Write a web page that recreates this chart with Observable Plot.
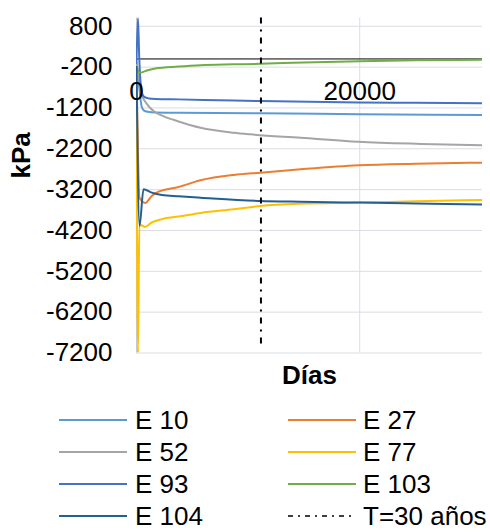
<!DOCTYPE html>
<html>
<head>
<meta charset="utf-8">
<script src="https://cdn.jsdelivr.net/npm/d3@7"></script>
<script src="https://cdn.jsdelivr.net/npm/@observablehq/plot@0.6"></script>
<style>
  html, body { margin: 0; padding: 0; background: white; }
  body { width: 490px; height: 532px; overflow: hidden; font-family: "Liberation Sans", Arial, sans-serif; }
  #chart { height: 395px; }
  #chart svg { display: block; }
  #legend { position: relative; width: 490px; height: 137px; }
  .item { position: absolute; height: 22px; display: flex; align-items: center; font-size: 26px; line-height: 22px; color: black; white-space: nowrap; }
  .item svg { display: block; }
</style>
</head>
<body>
<div id="chart"></div>
<div id="legend"></div>
<script>
// ---- data ----
const seriesNames = ["E 10", "E 27", "E 52", "E 77", "E 93", "E 103", "E 104"];
const seriesColors = ["#5B9BD5", "#ED7D31", "#A5A5A5", "#FFC000", "#4472C4", "#70AD47", "#255E91"];

const e10Days = [0, 250, 450, 650, 1000, 1700, 3770, 11100, 20000, 31000];
const e10Kpa  = [-100, -700, -1150, -1260, -1295, -1312, -1318, -1330, -1352, -1375];

const e27Days = [0, 270, 780, 1370, 1970, 3770, 5740, 8700, 11100, 14700, 19900, 25000, 31000];
const e27Kpa  = [-200, -3400, -3525, -3354, -3250, -3134, -2971, -2841, -2784, -2702, -2604, -2565, -2540];

const e52Days = [0, 250, 480, 960, 1500, 2400, 3770, 5740, 8700, 10200, 14700, 19900, 25500, 31000];
const e52Kpa  = [-100, -500, -868, -1113, -1270, -1400, -1530, -1684, -1806, -1846, -1929, -2027, -2080, -2115];

const e77Days = [0, 130, 260, 750, 1370, 2270, 3770, 5740, 8700, 11100, 14700, 20000, 25000, 31000];
const e77Kpa  = [-200, -7200, -4050, -4112, -4004, -3922, -3860, -3770, -3680, -3600, -3545, -3518, -3485, -3452];

const e93Days = [0, 130, 250, 480, 700, 1100, 1700, 3770, 8700, 11100, 19900, 25000, 31000];
const e93Kpa  = [-100, 1000, 0, -820, -930, -966, -980, -990, -1020, -1032, -1064, -1075, -1088];

const e103Days = [0, 150, 300, 780, 1680, 3770, 5740, 8700, 11100, 15000, 20000, 25000, 31000];
const e103Kpa  = [-180, -300, -340, -298, -232, -185, -152, -133, -120, -85, -54, -35, -22];

const e104Days = [0, 270, 630, 1370, 2270, 3770, 5740, 11100, 14700, 20000, 25000, 31000];
const e104Kpa  = [-200, -4088, -3190, -3272, -3330, -3362, -3396, -3477, -3497, -3518, -3540, -3567];

const tLineLabel = "T=30 años";
const tLineDays = [11150];
const tLineKpa = [1000, -7000];

const xTicks = [0, 20000];
const yTicks = [800, -200, -1200, -2200, -3200, -4200, -5200, -6200, -7200];
const xDomain = [0, 31000];
const yDomain = [-7200, 1000];

// ---- build rows ----
const allDays = [e10Days, e27Days, e52Days, e77Days, e93Days, e103Days, e104Days];
const allKpa = [e10Kpa, e27Kpa, e52Kpa, e77Kpa, e93Kpa, e103Kpa, e104Kpa];
const rowsBySeries = seriesNames.map((name, s) =>
  allDays[s].map((d, i) => ({series: name, day: d, kpa: allKpa[s][i]}))
);

const FONT = "'Liberation Sans', Arial, sans-serif";
const dashDot = "6,6,2,6";

const chart = Plot.plot({
  width: 490,
  height: 395,
  marginLeft: 136,
  marginRight: 8,
  marginTop: 17.6,
  marginBottom: 42.5,
  x: {domain: xDomain, axis: null},
  y: {domain: yDomain, axis: null},
  style: {fontFamily: FONT, fontSize: "26px", color: "black", background: "white", overflow: "visible"},
  marks: [
    Plot.gridY(yTicks, {stroke: "#D9DDE3", strokeOpacity: 1, strokeWidth: 1}),
    Plot.ruleX(xTicks.filter(d => d !== 0), {stroke: "#D9DDE3", strokeWidth: 1}),
    Plot.ruleX([xDomain[0]], {stroke: "#C3C8D2", strokeWidth: 1}),
    Plot.ruleY([0], {stroke: "black", strokeWidth: 1}),
    Plot.axisY(yTicks, {tickSize: 0, tickPadding: 24, fontSize: 26, label: null, fill: "black", tickFormat: d => String(d)}),
    ...rowsBySeries.map((rows, s) =>
      Plot.line(rows, {x: "day", y: "kpa", stroke: seriesColors[s], strokeWidth: 2, curve: "monotone-x", clip: true})
    ),
    Plot.ruleX(tLineDays, {y1: () => tLineKpa[0], y2: () => tLineKpa[1], stroke: "black", strokeWidth: 2, strokeDasharray: dashDot}),
    Plot.text(xTicks, {x: d => d, y: () => 0, dy: 32.6, text: d => String(d), fontSize: 26, fill: "black", lineAnchor: "middle"}),
    Plot.text(["Días"], {frameAnchor: "bottom", dy: 23, fontSize: 26, fontWeight: "bold", fill: "black", lineAnchor: "middle"}),
    Plot.text(["kPa"], {frameAnchor: "left", dx: -115, dy: -7, rotate: -90, fontSize: 26, fontWeight: "bold", fill: "black", lineAnchor: "middle"})
  ]
});
document.getElementById("chart").appendChild(chart);

// ---- legend ----
const legend = document.getElementById("legend");
const legendItems = seriesNames.map((name, i) => ({label: name, color: seriesColors[i], dash: null}));
legendItems.push({label: tLineLabel, color: "black", dash: "5,5,2,5"});
const rowCenters = [24.5, 56.8, 89, 121.2];
const colLeft = [59, 288];
legendItems.forEach((it, i) => {
  const col = i % 2, row = Math.floor(i / 2);
  const div = document.createElement("div");
  div.className = "item";
  div.style.left = colLeft[col] + "px";
  div.style.top = (rowCenters[row] - 11) + "px";
  const svg = d3.create("svg").attr("width", 68).attr("height", 22).style("margin-right", col === 0 ? "8px" : "7px");
  svg.append("line").attr("x1", 0).attr("x2", 68).attr("y1", 11).attr("y2", 11)
    .attr("stroke", it.color).attr("stroke-width", it.dash ? 1.5 : 2)
    .attr("stroke-dasharray", it.dash);
  div.appendChild(svg.node());
  const span = document.createElement("span");
  span.textContent = it.label;
  div.appendChild(span);
  legend.appendChild(div);
});
</script>
</body>
</html>
